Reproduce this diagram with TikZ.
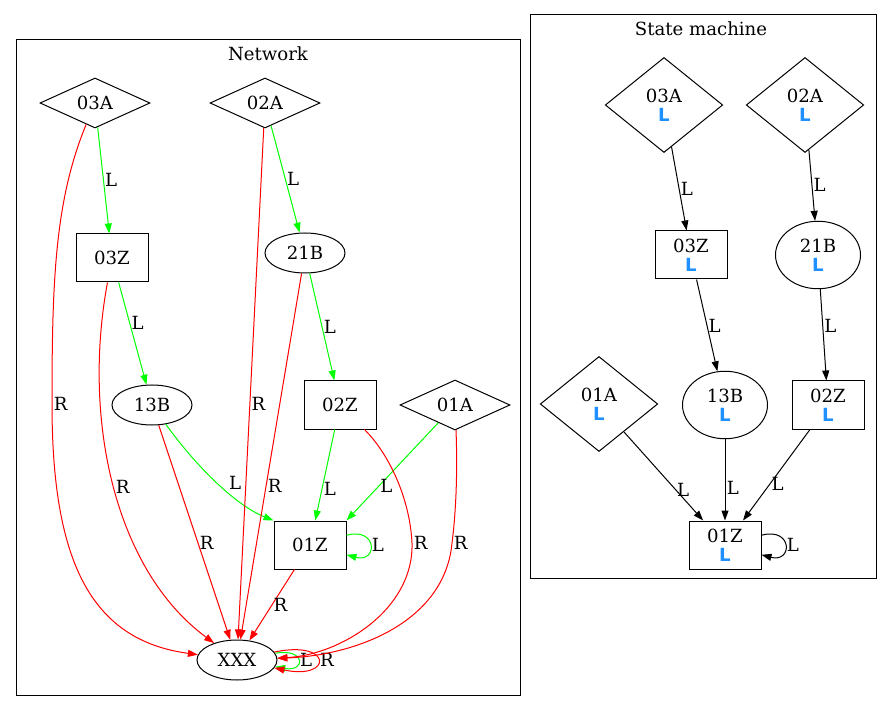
\documentclass[tikz,border=0pt]{standalone}
\usepackage{fontspec}
\setmainfont{DejaVu Serif}
\newfontfamily\smfont{DejaVu Sans}
\usetikzlibrary{shapes.geometric,arrows.meta}

\definecolor{smblue}{RGB}{30,144,255}
\definecolor{netgreen}{RGB}{0,255,0}
\definecolor{netred}{RGB}{255,0,0}
\newcommand{\smL}{{\smfont\bfseries\color{smblue}L}}

\begin{document}
\begin{tikzpicture}[x=0.8pt,y=0.8pt,line width=0.8pt,
    font=\fontsize{14.5}{15}\selectfont,
    >={Triangle[length=8pt,width=5.6pt]},
    sq/.style={draw,rectangle,align=center,minimum width=57.6pt,minimum height=38.4pt},
    ov/.style={draw,ellipse,inner sep=0pt,minimum width=64pt,minimum height=32pt},
    dm/.style={draw,diamond,inner sep=0pt,minimum width=88pt,minimum height=40pt},
    bigov/.style={draw,ellipse,inner sep=0pt,align=center,minimum width=68pt,minimum height=54pt},
    bigdm/.style={draw,diamond,inner sep=0pt,align=center,minimum width=94pt,minimum height=76pt},
    lbl/.style={inner sep=1pt}]

        \useasboundingbox (0,0) rectangle (891,-712);

        % clusters
        \draw (16,-40) rectangle (520,-695);
        \draw (530,-15) rectangle (876,-578);
        \node (net) at (268,-54) {Network};
        \node (sm)  at (701,-29) {State machine};

        % network
        \node[dm] (03A) at (95,-103)  {03A};
        \node[dm] (02A) at (265,-103) {02A};
        \node[sq] (03Z) at (112,-258) {03Z};
        \node[ov] (21B) at (305,-253) {21B};
        \node[ov] (13B) at (152,-405) {13B};
        \node[sq] (02Z) at (340,-405) {02Z};
        \node[dm] (01A) at (455,-405) {01A};
        \node[sq] (01Z) at (310,-545) {01Z};
        \node[ov] (XXX) at (237,-660) {XXX};

        % state machine
        \node[bigdm] (m03A) at (664,-105) {03A\\\smL};
        \node[bigdm] (m02A) at (805,-105) {02A\\\smL};
        \node[sq]    (m03Z) at (691,-255) {03Z\\\smL};
        \node[bigov] (m21B) at (818,-255) {21B\\\smL};
        \node[bigdm] (m01A) at (599,-404) {01A\\\smL};
        \node[bigov] (m13B) at (725,-405) {13B\\\smL};
        \node[sq]    (m02Z) at (828,-405) {02Z\\\smL};
        \node[sq]    (m01Z) at (725,-545) {01Z\\\smL};

        \begin{scope}[every node/.style={lbl}]

          % L moves
          \begin{scope}[every edge/.style={draw=netgreen,->}]
            \path (03A) edge node[right] {L} (03Z);
            \path (02A) edge node[right] {L} (21B);
            \path (03Z) edge node[right,pos=0.4] {L} (13B);
            \path (21B) edge node[right] {L} (02Z);
            \path (02Z) edge node[right,pos=0.65] {L} (01Z);
            \path (01A) edge node[right,pos=0.65] {L} (01Z.north east);
            \path (01Z) edge[out=15,in=-15,distance=26pt] node[right] {L} (01Z);
            \path (XXX) edge[out=10,in=-10,distance=25pt] node[right] {L} (XXX);
          \end{scope}
          \draw[draw=netgreen,->] (13B) .. controls (195,-465) and (235,-505) .. (01Z.north west) node[pos=0.6,above right] {L};

          % R moves
          \begin{scope}[every edge/.style={draw=netred,->}]
            \path (02A) edge node[right,pos=0.54] {R} (XXX);
            \path (21B) edge node[right,pos=0.58] {R} (XXX);
            \path (13B) edge node[right,pos=0.55] {R} (XXX);
            \path (01Z) edge node[right] {R} (XXX);
            \path (XXX) edge[out=12,in=-12,distance=48pt] node[right] {R} (XXX);
          \end{scope}
          \draw[draw=netred,->] (03A) .. controls (55,-200) and (52,-280) .. (52,-404) node[right] {R}
                                .. controls (52,-560) and (90,-640) .. (XXX);
          \draw[draw=netred,->] (03Z) .. controls (82,-420) and (115,-570) .. (XXX) node[right,pos=0.5] {R};
          \draw[draw=netred,->] (02Z) .. controls (390,-455) and (410,-500) .. (412,-543) node[right] {R}
                                .. controls (414,-610) and (340,-655) .. (XXX);
          \draw[draw=netred,->] (01A) .. controls (458,-480) and (455,-520) .. (452,-543) node[right] {R}
                                .. controls (445,-620) and (360,-655) .. (XXX);

          % state machine moves
          \begin{scope}[every edge/.style={draw,->}]
            \path (m03A) edge node[right] {L} (m03Z);
            \path (m02A) edge node[right] {L} (m21B);
            \path (m03Z) edge node[right] {L} (m13B);
            \path (m21B) edge node[right,pos=0.4] {L} (m02Z);
            \path (m01A) edge node[right,pos=0.65] {L} (m01Z);
            \path (m13B) edge node[right,pos=0.6] {L} (m01Z);
            \path (m02Z) edge node[right,pos=0.6] {L} (m01Z);
            \path (m01Z) edge[out=15,in=-15,distance=26pt] node[right] {L} (m01Z);
          \end{scope}
        \end{scope}

      \end{tikzpicture}
\end{document}
